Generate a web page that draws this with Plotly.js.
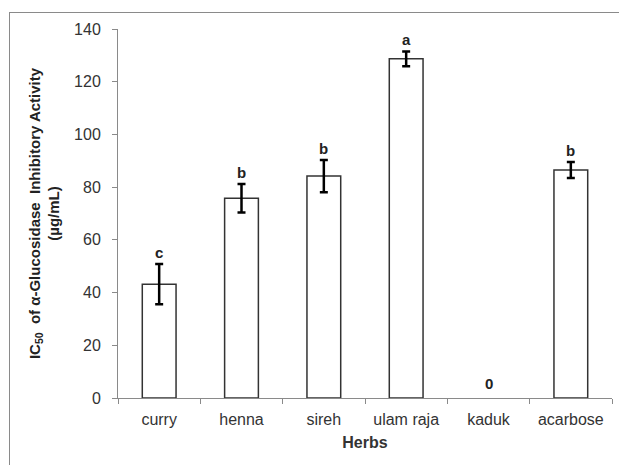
<!DOCTYPE html>
<html>
<head>
<meta charset="utf-8">
<script src="https://cdn.plot.ly/plotly-3.0.1.min.js"></script>
<style>
  html, body { margin: 0; padding: 0; background: #fff; }
  #wrap { position: relative; width: 619px; height: 465px; }
  #frame { position: absolute; left: 9px; top: 12px; width: 700px; height: 600px;
           border-left: 1px solid #8a8a8a; border-top: 1px solid #8a8a8a; pointer-events: none; }
  #chart { position: absolute; left: 0; top: 0; width: 619px; height: 465px; }
</style>
</head>
<body>
<div id="wrap">
  <div id="chart"></div>
  <div id="frame"></div>
</div>
<script>
const herbs   = ["curry", "henna", "sireh", "ulam raja", "kaduk", "acarbose"];
const ic50    = [43.2, 75.8, 84.2, 128.7, 0, 86.5];
const sdErr   = [7.6, 5.4, 6.1, 2.8, 0, 3.0];
const letters = ["c", "b", "b", "a", "0", "b"];

const FONT = "Liberation Sans, Arial, sans-serif";

// a zero value is shown only by its "0" label, with no bar outline or error bar
const barY   = ic50.map(v => (v > 0 ? v : null));
const barErr = sdErr.map((e, i) => (ic50[i] > 0 ? e : null));

const trace = {
  type: "bar",
  x: herbs,
  y: barY,
  marker: { color: "#ffffff", line: { color: "#333333", width: 1.5 } },
  error_y: { type: "data", array: barErr, visible: true, color: "#000000", thickness: 2.5, width: 4 },
  hoverinfo: "none"
};

const annotations = herbs.map((h, i) => ({
  x: h,
  y: ic50[i] + (ic50[i] > 0 ? sdErr[i] : 0),
  xref: "x", yref: "y",
  text: "<b>" + letters[i] + "</b>",
  showarrow: false,
  yanchor: "bottom",
  yshift: ic50[i] > 0 ? 1 : 4,
  font: { family: FONT, size: 15, color: "#222" }
}));

const layout = {
  width: 619, height: 465,
  margin: { l: 118, r: 7, t: 29, b: 67 },
  paper_bgcolor: "rgba(0,0,0,0)",
  plot_bgcolor: "rgba(0,0,0,0)",
  showlegend: false,
  bargap: 0.59,
  font: { family: FONT, size: 15, color: "#333" },
  xaxis: {
    type: "category",
    showline: true, linecolor: "#8a8a8a", linewidth: 1,
    ticks: "outside", tickson: "boundaries", ticklen: 5, tickcolor: "#8a8a8a",
    ticklabelstandoff: 7,
    showgrid: false, zeroline: false,
    tickfont: { size: 16, color: "#333" },
    title: { text: "<b>Herbs</b>", font: { size: 16, color: "#333" }, standoff: 9 }
  },
  yaxis: {
    range: [0, 140],
    dtick: 20,
    showline: true, linecolor: "#8a8a8a", linewidth: 1,
    ticks: "outside", ticklen: 5, tickcolor: "#8a8a8a",
    ticklabelstandoff: 8,
    showgrid: false, zeroline: false,
    tickfont: { size: 16, color: "#333" },
    title: {
      text: "<b>IC<sub>50</sub>  of α-Glucosidase  Inhibitory Activity<br>(µg/mL)</b>",
      font: { size: 15, color: "#222" }, standoff: 10
    }
  },
  annotations: annotations
};

Plotly.newPlot("chart", [trace], layout, { displayModeBar: false, staticPlot: true });
</script>
</body>
</html>
